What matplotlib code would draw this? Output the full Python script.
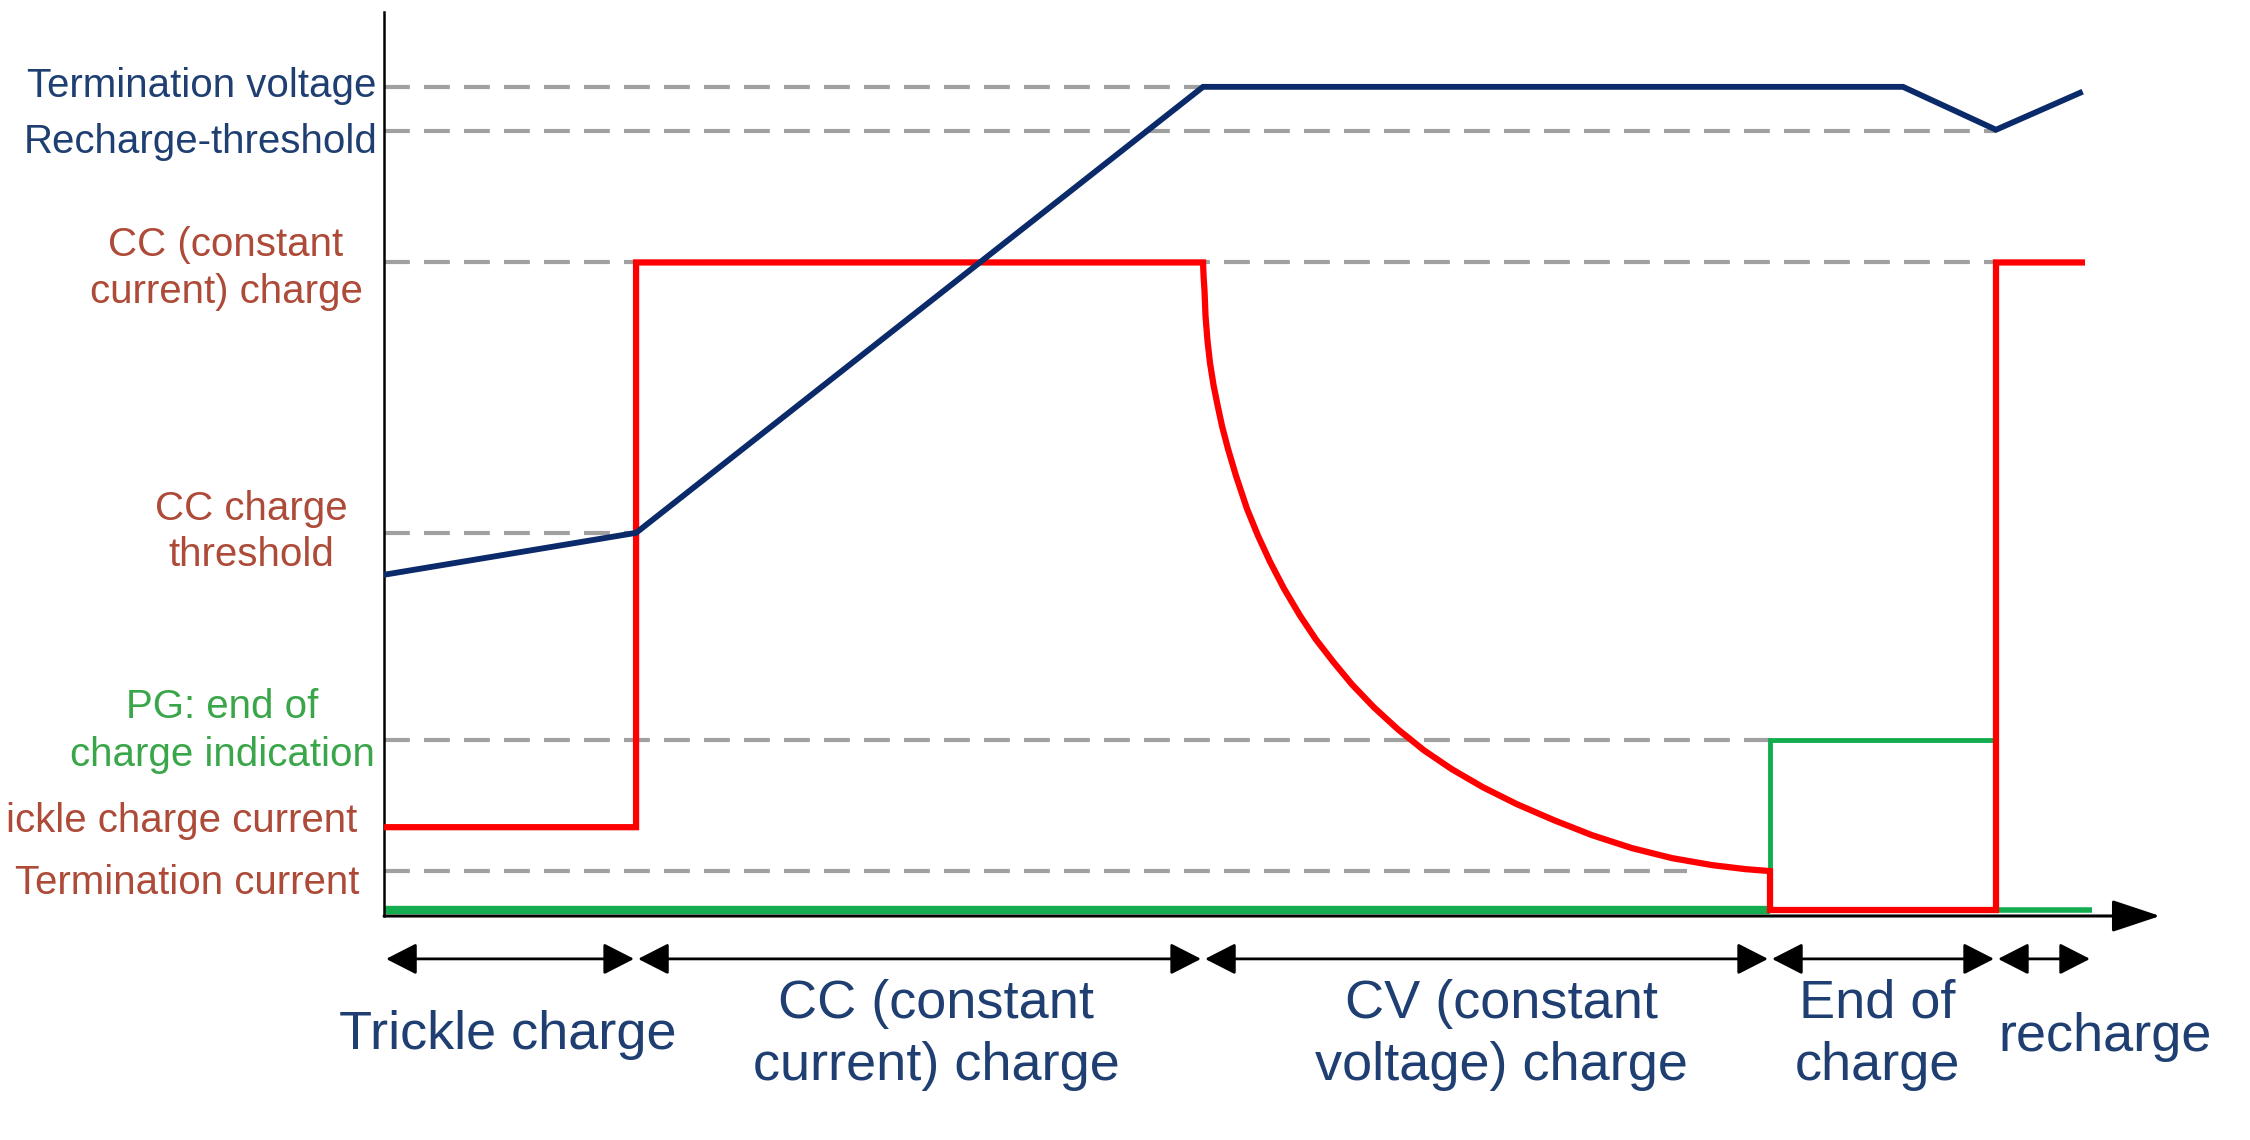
import numpy as np
from matplotlib import pyplot as plt

plt.rcParams['font.family'] = ['Liberation Sans', 'DejaVu Sans']

# phase boundaries on the time axis (arbitrary units)
PHASE_EDGES = [0.0, 25.2, 81.9, 138.6, 161.2, 170.8]
PHASE_NAMES = ['Trickle charge', 'CC (constant\ncurrent) charge', 'CV (constant\nvoltage) charge',
               'End of\ncharge', 'recharge']

# threshold levels (arbitrary units)
LEVEL_NAMES = ['Termination voltage', 'Recharge-threshold', 'CC (constant\ncurrent) charge',
               'CC charge\nthreshold', 'PG: end of\ncharge indication', 'ickle charge current',
               'Termination current']
LEVEL_VALUES = [82.5, 78.1, 64.9, 37.8, 17.0, 8.3, 3.9]
LEVEL_DASH_END = [81.9, 161.2, 161.2, 25.2, 138.6, 25.2, 130.3]

# battery voltage
volt_t = [0.0, 25.2, 81.9, 151.9, 161.2, 169.6]
volt_v = [33.6, 37.8, 82.5, 82.5, 78.2, 81.9]

# charge current (trickle, CC, CV decay, end of charge, recharge)
curr_t = [0.0, 25.2, 25.2, 81.9, 81.95, 82.05, 82.15, 82.35, 82.6, 82.95, 83.35, 83.8, 84.4,
          85.2, 86.3, 87.4, 88.6, 90.0, 91.6, 93.2, 94.9, 96.8, 99.0, 101.4, 104.0, 106.8,
          109.9, 113.3, 117.0, 120.8, 124.8, 128.8, 132.8, 136.1, 138.6, 138.6, 161.2, 161.2, 170.1]
curr_i = [8.3, 8.3, 64.9, 64.9, 63.6, 62.0, 59.5, 57.0, 54.8, 52.6, 50.6, 48.5, 46.2,
          43.5, 40.2, 37.5, 34.9, 32.2, 29.5, 27.1, 24.9, 22.6, 20.3, 18.1, 16.0, 14.1,
          12.3, 10.6, 9.0, 7.5, 6.2, 5.2, 4.5, 4.1, 3.9, 0.0, 0.0, 64.9, 64.9]

# PG indication
pg_t = [0.0, 138.6, 138.6, 161.2, 161.2, 170.8]
pg_v = [0.0, 0.0, 17.0, 17.0, 0.0, 0.0]

BLUE_LINE = '#0a2a6a'
BLUE_TEXT = '#1f3f72'
BROWN = '#ad4a38'
GREEN_TEXT = '#3aa64a'
GREEN_LINE = '#13ad50'
RED = '#ff0000'
GRAY = '#a0a0a0'

fig = plt.figure(figsize=(22.5, 11.4), dpi=100)
ax = fig.add_axes([0.1707, 0.1965, 0.7893, 0.7934])
ax.set_xlim(0, 177.6)
ax.set_ylim(-0.6, 90.05)
for side in ['top', 'right', 'bottom']:
    ax.spines[side].set_visible(False)
ax.spines['left'].set_linewidth(1.8)
ax.set_xticks([])
ax.set_yticks([])

# dashed threshold guides
for level, end in zip(LEVEL_VALUES, LEVEL_DASH_END):
    ax.plot([0, end], [level, level], color=GRAY, lw=3, dashes=(6.2, 3.4), zorder=1)

# time axis with arrow
ax.annotate('', xy=(177.6, -0.6), xytext=(0, -0.6),
            arrowprops=dict(arrowstyle='-|>,head_length=0.6,head_width=0.2', mutation_scale=50,
                            color='black', lw=2.2, shrinkA=0, shrinkB=0),
            annotation_clip=False, zorder=1)

ax.plot(pg_t[:2], pg_v[:2], color=GREEN_LINE, lw=6, solid_capstyle='butt', zorder=2, clip_on=False)
ax.plot(pg_t[1:5], pg_v[1:5], color=GREEN_LINE, lw=3.5, solid_joinstyle='miter', zorder=2)
ax.plot(pg_t[4:], pg_v[4:], color=GREEN_LINE, lw=4, solid_capstyle='butt', zorder=2, clip_on=False)
ax.plot(curr_t, curr_i, color=RED, lw=4.5, solid_joinstyle='miter', solid_capstyle='butt',
        zorder=3, clip_on=False)
ax.plot(volt_t, volt_v, color=BLUE_LINE, lw=4.2, solid_joinstyle='miter', zorder=4)

# phase arrows and names
for i, name in enumerate(PHASE_NAMES):
    x0, x1 = PHASE_EDGES[i], PHASE_EDGES[i + 1]
    ax.annotate('', xy=(x1 - 0.2, -4.9), xytext=(x0 + 0.2, -4.9),
                arrowprops=dict(arrowstyle='<|-|>,head_length=0.45,head_width=0.23',
                                mutation_scale=42, color='black', lw=2, shrinkA=0, shrinkB=0),
                annotation_clip=False)

label_x = [12.4, 55.2, 111.7, 149.3, 172.1]
label_y = [-12.5, -12.5, -12.5, -12.5, -12.7]
for name, x, y in zip(PHASE_NAMES, label_x, label_y):
    ax.text(x, y, name, ha='center', va='center', fontsize=39, color=BLUE_TEXT,
            linespacing=1.3, clip_on=False)

# level names on the left
fs = 29
fig.text(376 / 2250, 1 - 86 / 1140, LEVEL_NAMES[0], ha='right', va='center', fontsize=fs, color=BLUE_TEXT)
fig.text(378 / 2250, 1 - 142 / 1140, LEVEL_NAMES[1], ha='right', va='center', fontsize=fs, color=BLUE_TEXT)
fig.text(226 / 2250, 1 - 268 / 1140, LEVEL_NAMES[2], ha='center', va='center', fontsize=fs,
         color=BROWN, linespacing=1.3)
fig.text(251 / 2250, 1 - 532 / 1140, LEVEL_NAMES[3], ha='center', va='center', fontsize=fs,
         color=BROWN, linespacing=1.3)
fig.text(222 / 2250, 1 - 731 / 1140, LEVEL_NAMES[4], ha='center', va='center', fontsize=fs,
         color=GREEN_TEXT, linespacing=1.3)
fig.text(357 / 2250, 1 - 821 / 1140, LEVEL_NAMES[5], ha='right', va='center', fontsize=fs, color=BROWN)
fig.text(359 / 2250, 1 - 883 / 1140, LEVEL_NAMES[6], ha='right', va='center', fontsize=fs, color=BROWN)

fig.savefig('out.png', dpi=100)
